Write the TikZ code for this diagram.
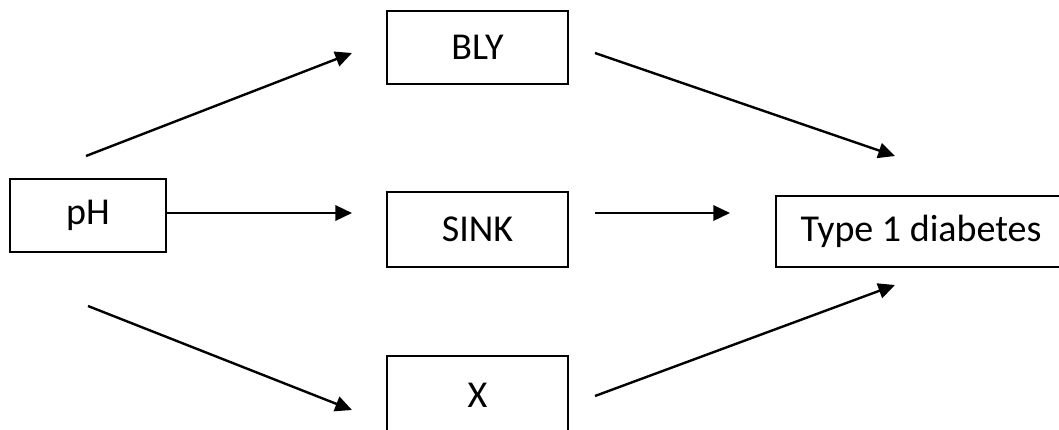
\documentclass[tikz,border=0pt]{standalone}
\usepackage{fontspec}
\setmainfont{Carlito}
\usetikzlibrary{arrows.meta}
\begin{document}
\begin{tikzpicture}[x=0.75pt,y=-0.75pt,
  box/.style={draw=black,line width=1.5pt,fill=white,inner sep=0pt,
    font=\fontsize{28.5}{34}\selectfont},
  arr/.style={line width=1.8pt,-{Triangle[length=12.5pt,width=11.5pt]}}]
\useasboundingbox (0,0) rectangle (1059,429);
\clip (0,0) rectangle (1059,429);
\node[box,minimum width=156*0.75pt,minimum height=73*0.75pt] (ph) at (88,215.5) {pH};
\node[box,minimum width=181*0.75pt,minimum height=73*0.75pt] (bly) at (477.5,47.5) {BLY};
\node[box,minimum width=181*0.75pt,minimum height=75*0.75pt] (sink) at (477.5,229.5) {SINK};
\node[box,minimum width=181*0.75pt,minimum height=78*0.75pt] (x) at (477.5,395) {X};
\node[box,minimum width=290*0.75pt,minimum height=71*0.75pt] (t1d) at (921,231.5) {Type 1 diabetes};
\coordinate (a1s) at (86,156);
\coordinate (a1e) at (352,53);
\coordinate (a3s) at (88,306);
\coordinate (a3e) at (352,410);
\coordinate (b1s) at (595,53);
\coordinate (b1e) at (895,156);
\coordinate (b2s) at (595,213);
\coordinate (b2e) at (730,213);
\coordinate (b3s) at (595,396);
\coordinate (b3e) at (895,285);
\coordinate (a2e) at (352,213);
\draw[arr] (a1s) -- (a1e);
\draw[arr] (ph.east |- a2e) -- (a2e);
\draw[arr] (a3s) -- (a3e);
\draw[arr] (b1s) -- (b1e);
\draw[arr] (b2s) -- (b2e);
\draw[arr] (b3s) -- (b3e);
\end{tikzpicture}
\end{document}
